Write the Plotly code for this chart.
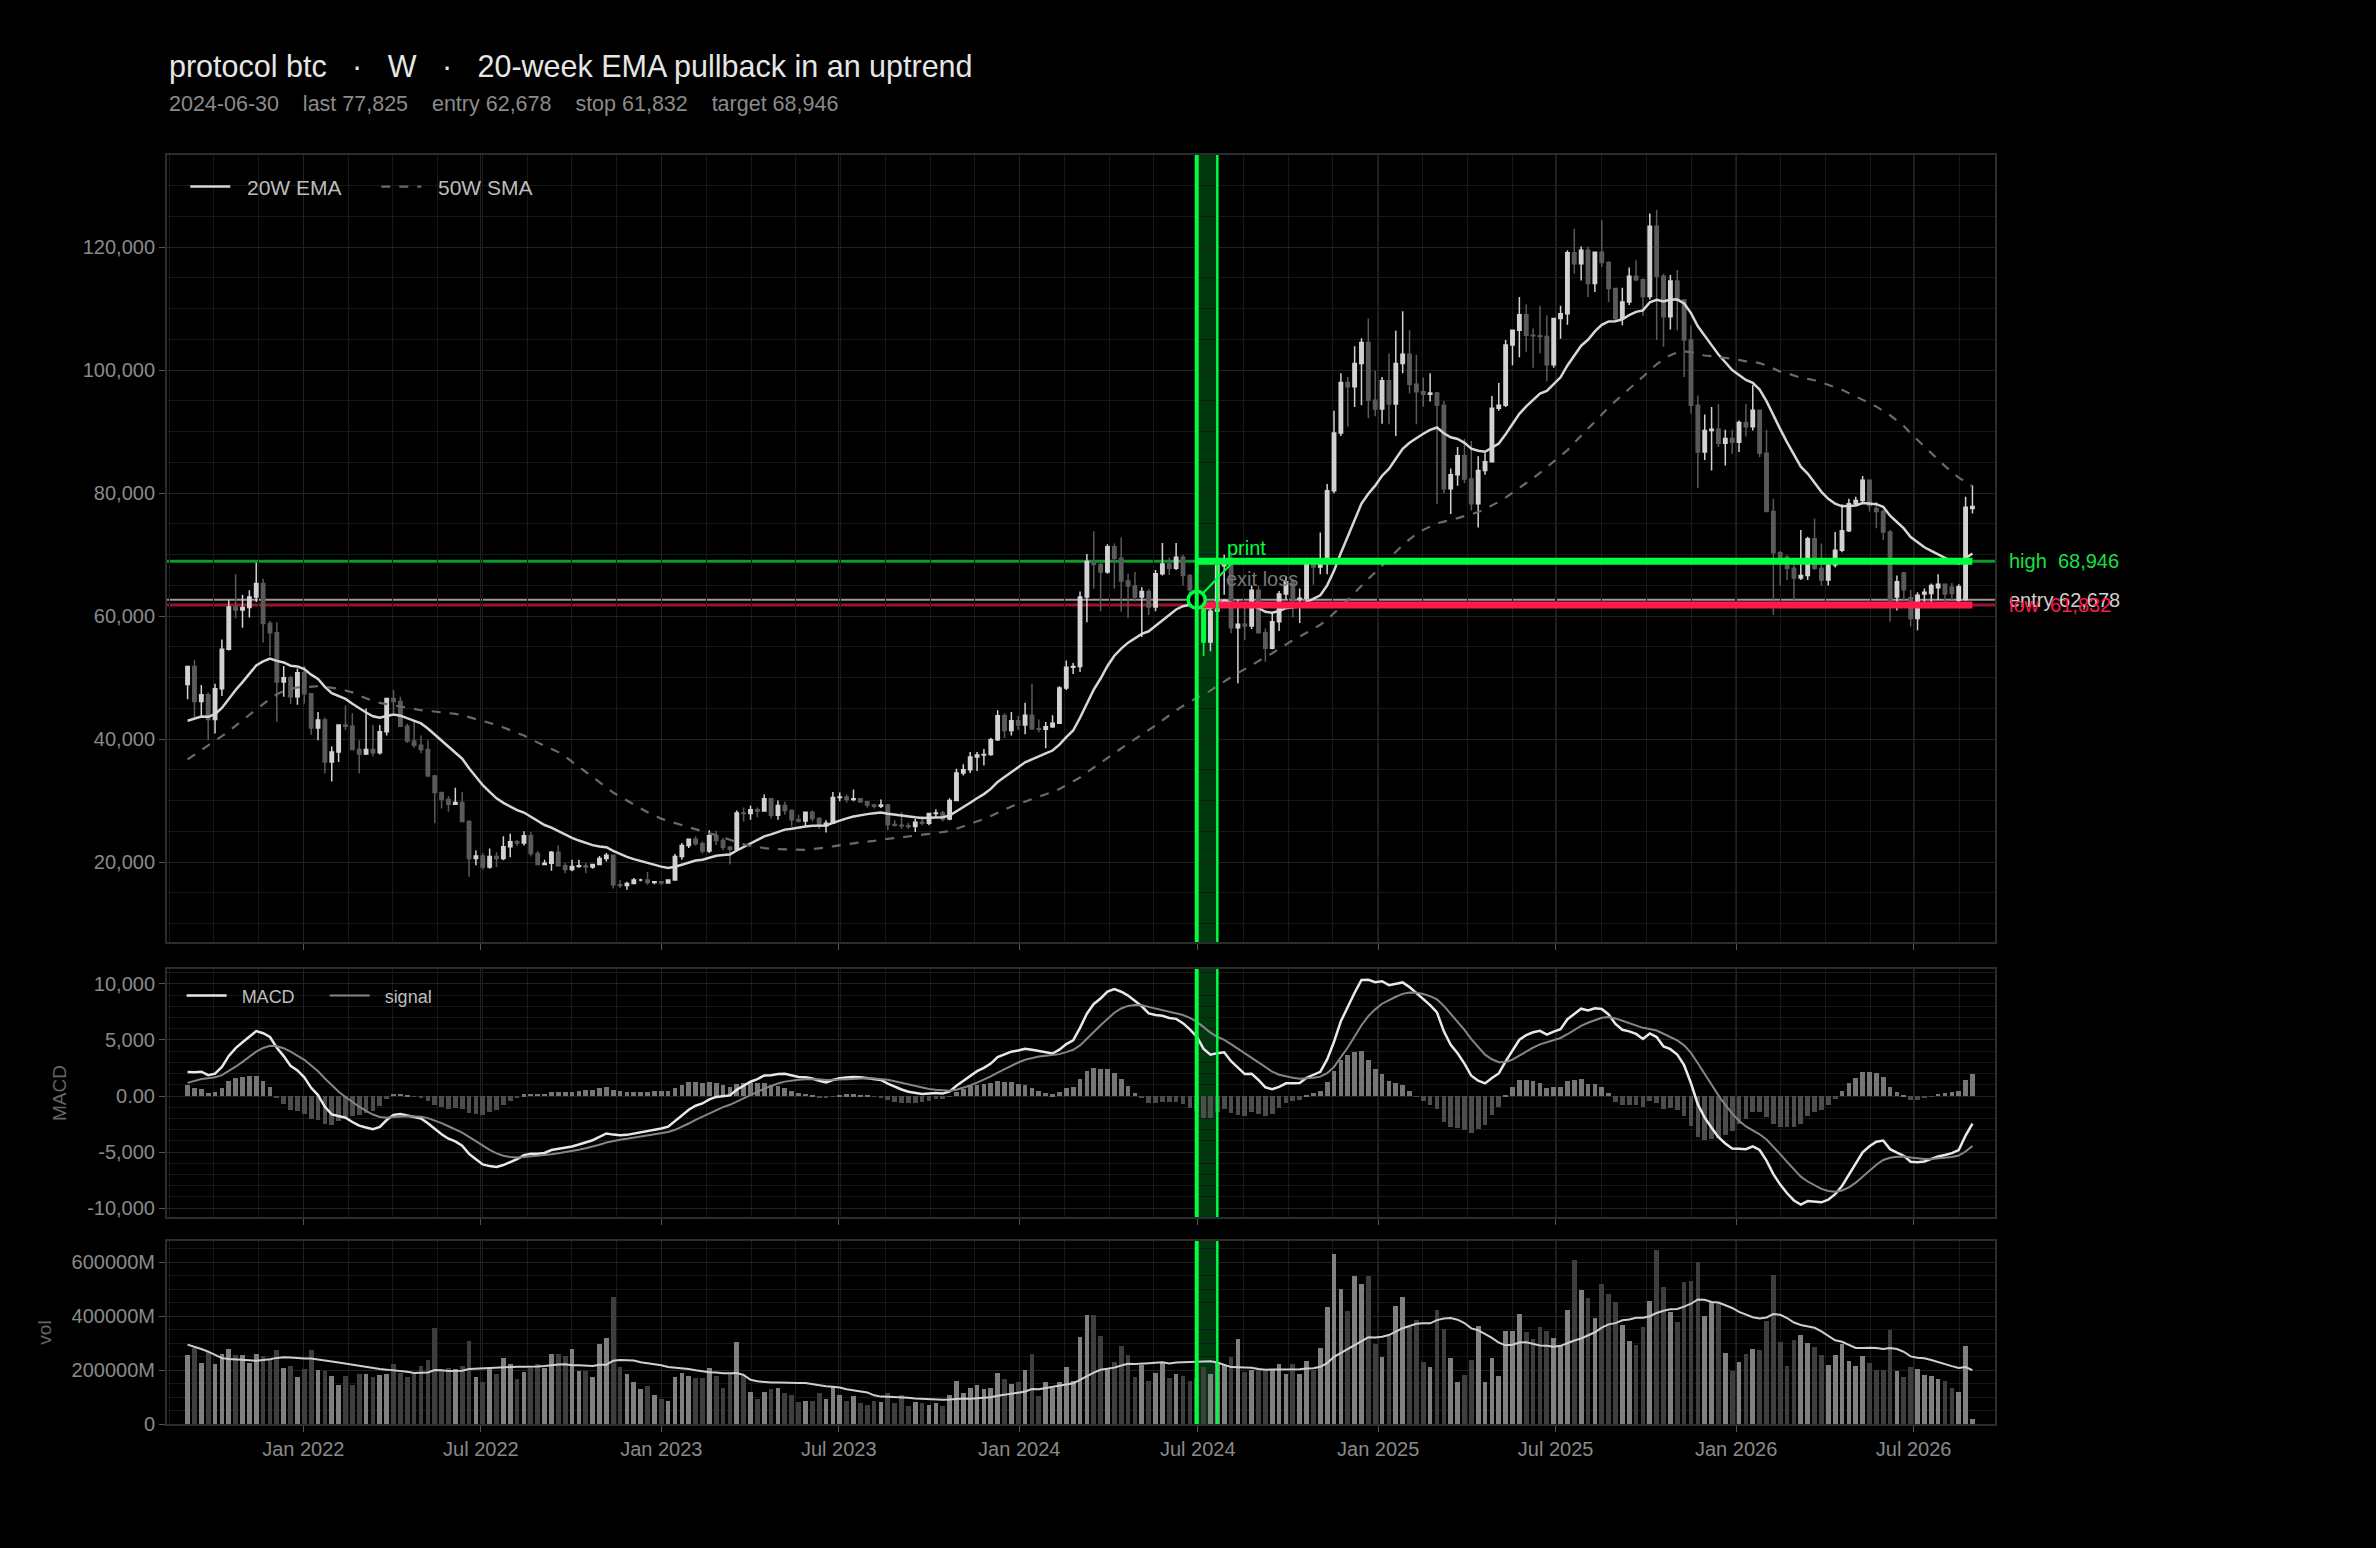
import numpy as np
import pandas as pd
import plotly.graph_objects as go
from plotly.subplots import make_subplots

symbol = "protocol btc"
timeframe = "W"
setup = "20-week EMA pullback in an uptrend"
signal_date = "2024-06-30"
entry_price = 62678
stop_price = 61832
target_price = 68946
hold_weeks = 3

# weekly bars (week ending Sunday, first one 2021-09-05), prices in USD thousands
open_k = [
    48.9, 51.8, 46.1, 47.2, 43.2, 48.2, 54.6, 61.5, 61.0, 61.4,
    63.1, 65.3, 58.8, 57.3, 49.3, 50.0, 46.9, 50.8, 47.4, 41.8,
    43.1, 36.3, 37.9, 42.3, 42.1, 38.3, 37.6, 38.3, 37.8, 41.2,
    46.6, 46.1, 42.1, 39.7, 39.0, 38.3, 34.0, 31.3, 30.2, 29.4,
    29.7, 26.6, 20.6, 21.0, 19.2, 20.9, 20.6, 22.5, 23.3, 23.1,
    24.3, 21.4, 19.6, 19.8, 21.6, 19.4, 18.8, 19.3, 19.4, 19.2,
    19.6, 20.6, 21.1, 16.3, 16.2, 16.5, 17.1, 17.1, 16.7, 16.8,
    16.6, 17.1, 20.9, 22.7, 23.7, 23.0, 21.8, 24.3, 23.5, 22.4,
    22.1, 28.0, 27.9, 28.5, 28.3, 30.3, 27.6, 29.2, 28.4, 26.9,
    26.7, 28.1, 27.1, 25.9, 26.3, 30.5, 30.6, 30.2, 30.3, 29.8,
    29.3, 29.1, 29.3, 26.1, 26.0, 25.9, 25.8, 26.5, 26.3, 27.9,
    28.0, 27.0, 30.0, 34.5, 35.0, 37.1, 37.4, 37.5, 39.9, 43.8,
    41.4, 43.0, 42.3, 43.9, 41.7, 41.6, 42.0, 42.6, 48.3, 51.7,
    51.8, 63.1, 68.9, 68.4, 67.2, 71.3, 69.4, 65.7, 64.9, 63.1,
    64.0, 61.5, 66.9, 68.5, 67.8, 69.6, 66.6, 64.3, 62.7, 55.8,
    60.8, 68.2, 68.3, 58.1, 58.7, 58.4, 64.2, 57.3, 54.8, 59.1,
    63.6, 65.6, 62.8, 62.9, 69.0, 68.0, 68.7, 80.4, 89.8, 98.0,
    97.3, 101.1, 104.5, 95.1, 93.7, 98.3, 94.5, 101.1, 102.6, 97.7,
    96.5, 96.1, 96.3, 94.3, 80.7, 83.0, 86.1, 82.3, 78.3, 83.7,
    85.1, 93.8, 94.3, 104.1, 106.5, 109.0, 105.7, 105.6, 105.5, 100.9,
    108.4, 109.2, 119.1, 117.3, 119.5, 114.1, 119.2, 117.5, 113.3, 108.4,
    111.1, 115.3, 114.7, 112.0, 123.4, 115.3, 108.7, 114.5, 111.4, 104.9,
    94.3, 86.7, 90.2, 90.4, 88.1, 88.9, 88.3, 91.5, 90.8, 93.5,
    86.5, 77.0, 70.3, 69.6, 67.8, 66.2, 66.6, 72.6, 67.8, 65.9,
    68.3, 70.7, 73.9, 78.3, 78.8, 82.1, 77.5, 77.0, 73.7, 63.1,
    67.0, 63.0, 59.6, 63.6, 63.7, 64.6, 65.2, 64.7, 62.6, 62.7, 77.5,
]
high_k = [
    51.9, 52.9, 48.8, 47.6, 49.0, 56.2, 62.6, 66.8, 63.5, 64.2,
    68.7, 66.1, 59.2, 59.0, 51.9, 50.3, 51.5, 51.9, 47.5, 44.4,
    43.5, 38.8, 42.4, 45.5, 44.2, 39.8, 45.0, 42.3, 42.3, 46.6,
    48.0, 46.9, 42.5, 42.8, 40.6, 39.8, 34.2, 31.4, 30.7, 32.1,
    31.4, 26.8, 21.9, 21.5, 22.2, 21.6, 24.2, 24.6, 23.6, 25.0,
    24.9, 21.8, 20.4, 21.8, 22.7, 19.9, 20.4, 20.4, 19.9, 19.7,
    21.0, 21.5, 21.1, 17.1, 16.8, 17.4, 17.3, 18.4, 16.9, 16.8,
    17.2, 21.3, 23.1, 23.8, 24.2, 23.4, 25.2, 25.1, 23.9, 22.6,
    28.4, 28.9, 29.2, 28.9, 31.0, 30.4, 30.0, 29.8, 28.6, 27.7,
    28.2, 28.4, 27.3, 26.8, 31.4, 31.3, 31.0, 31.8, 30.4, 29.9,
    29.5, 30.2, 29.5, 26.8, 28.1, 26.4, 27.0, 27.5, 28.0, 28.6,
    28.3, 30.4, 35.2, 35.9, 37.9, 37.9, 38.4, 40.2, 44.7, 44.2,
    44.4, 43.8, 45.9, 49.0, 43.2, 42.8, 43.9, 48.6, 52.8, 52.4,
    64.0, 70.1, 73.8, 68.7, 71.7, 71.8, 72.8, 66.9, 67.2, 64.7,
    64.4, 67.5, 71.9, 69.5, 71.9, 70.0, 66.8, 64.5, 63.8, 61.3,
    68.4, 70.0, 70.0, 62.7, 61.8, 65.0, 64.9, 58.0, 60.6, 64.1,
    66.5, 66.0, 64.5, 69.5, 69.5, 73.6, 81.5, 93.4, 99.5, 98.9,
    103.9, 105.2, 108.4, 99.9, 98.9, 102.7, 106.4, 109.6, 106.5, 102.5,
    98.8, 99.5, 96.5, 95.0, 84.0, 87.5, 88.8, 88.5, 86.0, 86.5,
    95.8, 97.9, 104.9, 106.6, 111.9, 110.7, 106.8, 110.5, 108.9, 108.5,
    110.5, 119.5, 123.0, 120.1, 120.1, 119.3, 124.4, 117.7, 113.4, 113.4,
    116.7, 117.9, 114.9, 125.5, 126.1, 115.7, 115.5, 116.3, 111.6, 107.3,
    95.9, 92.8, 94.0, 94.5, 90.3, 90.3, 91.8, 94.5, 97.6, 93.6,
    90.3, 79.1, 70.6, 69.9, 68.4, 74.0, 72.9, 75.9, 71.8, 68.6,
    73.7, 78.2, 79.1, 79.4, 82.8, 82.2, 78.6, 77.3, 74.0, 66.6,
    67.2, 64.3, 63.9, 64.5, 65.3, 66.8, 65.3, 65.4, 65.2, 79.4, 81.3,
]
low_k = [
    46.5, 43.4, 43.6, 39.8, 40.9, 47.0, 54.4, 59.6, 58.1, 59.8,
    62.3, 55.7, 53.5, 42.8, 46.9, 45.7, 45.6, 45.8, 40.7, 39.8,
    34.4, 33.1, 36.3, 41.5, 38.2, 34.4, 37.4, 37.2, 37.5, 40.6,
    44.2, 42.0, 39.4, 38.6, 37.7, 33.9, 26.3, 28.7, 28.2, 29.3,
    26.5, 17.6, 19.5, 18.8, 18.9, 19.2, 20.3, 20.8, 22.6, 22.7,
    20.9, 19.5, 19.5, 18.6, 19.3, 18.2, 18.5, 19.1, 18.2, 18.9,
    19.5, 20.1, 15.7, 15.8, 15.5, 16.4, 16.9, 16.3, 16.4, 16.3,
    16.5, 17.0, 20.4, 22.3, 22.7, 21.4, 21.5, 22.8, 21.9, 19.6,
    21.9, 26.6, 26.9, 27.3, 28.2, 27.1, 26.9, 27.7, 25.8, 26.4,
    25.9, 26.6, 25.4, 24.8, 26.2, 29.9, 29.7, 29.9, 29.6, 28.9,
    28.7, 28.8, 25.2, 25.8, 25.4, 25.4, 24.9, 26.0, 26.0, 27.2,
    26.6, 26.8, 29.9, 34.1, 34.5, 34.8, 35.7, 37.3, 39.7, 40.2,
    40.6, 41.5, 40.8, 41.5, 41.1, 38.5, 41.8, 42.5, 48.0, 50.6,
    50.9, 59.0, 64.5, 60.8, 66.9, 64.5, 60.7, 59.7, 62.4, 56.6,
    60.2, 60.8, 66.6, 66.7, 67.5, 65.0, 63.4, 58.4, 53.5, 54.3,
    60.7, 63.5, 57.2, 49.1, 56.1, 57.9, 57.2, 52.6, 54.6, 57.6,
    62.7, 59.8, 58.9, 62.4, 65.1, 66.8, 66.8, 80.0, 89.3, 90.8,
    94.0, 94.3, 92.2, 92.5, 91.3, 91.2, 89.3, 99.5, 96.2, 91.2,
    94.1, 94.9, 78.2, 80.0, 76.6, 81.2, 81.6, 77.2, 74.4, 83.0,
    85.0, 93.4, 94.0, 100.8, 102.1, 103.0, 100.4, 102.7, 98.2, 100.4,
    105.1, 107.4, 115.7, 114.6, 111.9, 112.7, 116.8, 111.1, 108.1, 107.3,
    110.6, 114.5, 108.8, 111.5, 104.9, 103.8, 106.6, 106.5, 98.9, 92.9,
    80.8, 85.4, 83.7, 87.5, 84.5, 86.4, 86.7, 89.2, 90.2, 85.9,
    76.9, 60.2, 65.0, 65.9, 62.6, 65.9, 65.9, 67.5, 65.0, 65.0,
    67.9, 70.4, 73.7, 78.0, 78.3, 77.0, 74.3, 72.4, 59.1, 60.9,
    62.6, 58.3, 57.7, 62.3, 62.3, 62.6, 62.3, 62.6, 62.3, 62.5, 76.7,
]
close_k = [
    51.8, 46.1, 47.2, 43.2, 48.2, 54.6, 61.5, 61.0, 61.4, 63.1,
    65.3, 58.8, 57.3, 49.3, 50.0, 46.9, 50.8, 47.4, 41.8, 43.1,
    36.3, 37.9, 42.3, 42.1, 38.3, 37.6, 38.3, 37.8, 41.2, 46.6,
    46.1, 42.1, 39.7, 39.0, 38.3, 34.0, 31.3, 30.2, 29.4, 29.7,
    26.6, 20.6, 21.0, 19.2, 20.9, 20.6, 22.5, 23.3, 23.1, 24.3,
    21.4, 19.6, 19.8, 21.6, 19.4, 18.8, 19.3, 19.4, 19.2, 19.6,
    20.6, 21.1, 16.3, 16.2, 16.5, 17.1, 17.1, 16.7, 16.8, 16.6,
    17.1, 20.9, 22.7, 23.7, 23.0, 21.8, 24.3, 23.5, 22.4, 22.1,
    28.0, 27.9, 28.5, 28.3, 30.3, 27.6, 29.2, 28.4, 26.9, 26.7,
    28.1, 27.1, 25.9, 26.3, 30.5, 30.6, 30.2, 30.3, 29.8, 29.3,
    29.1, 29.3, 26.1, 26.0, 25.9, 25.8, 26.5, 26.3, 27.9, 28.0,
    27.0, 30.0, 34.5, 35.0, 37.1, 37.4, 37.5, 39.9, 43.8, 41.4,
    43.0, 42.3, 43.9, 41.7, 41.6, 42.0, 42.6, 48.3, 51.7, 51.8,
    63.1, 68.9, 68.4, 67.2, 71.3, 69.4, 65.7, 64.9, 63.1, 64.0,
    61.5, 66.9, 68.5, 67.8, 69.6, 66.6, 64.3, 62.678, 55.8, 60.8,
    68.2, 68.3, 58.1, 58.7, 58.4, 64.2, 57.3, 54.8, 59.1, 63.6,
    65.6, 62.8, 62.9, 69.0, 68.0, 68.7, 80.4, 89.8, 98.0, 97.3,
    101.1, 104.5, 95.1, 93.7, 98.3, 94.5, 101.1, 102.6, 97.7, 96.5,
    96.1, 96.3, 94.3, 80.7, 83.0, 86.1, 82.3, 78.3, 83.7, 85.1,
    93.8, 94.3, 104.1, 106.5, 109.0, 105.7, 105.6, 105.5, 100.9, 108.4,
    109.2, 119.1, 117.3, 119.5, 114.1, 119.2, 117.5, 113.3, 108.4, 111.1,
    115.3, 114.7, 112.0, 123.4, 115.3, 108.7, 114.5, 111.4, 104.9, 94.3,
    86.7, 90.2, 90.4, 88.1, 88.9, 88.3, 91.5, 90.8, 93.5, 86.5,
    77.0, 70.3, 69.6, 67.8, 66.2, 66.6, 72.6, 67.8, 65.9, 68.3,
    70.7, 73.9, 78.3, 78.8, 82.1, 78.0, 77.0, 73.7, 62.5, 65.6,
    64.3, 59.6, 63.4, 63.9, 65.0, 65.2, 63.6, 63.7, 64.8, 77.7, 77.825,
]
# weekly volume, USD billions
volume_bn = [
    255, 280, 225, 265, 221, 258, 277, 255, 255, 225,
    258, 251, 236, 273, 206, 214, 174, 202, 273, 199,
    195, 176, 143, 176, 143, 186, 184, 174, 180, 186,
    221, 189, 174, 189, 214, 236, 354, 196, 209, 205,
    214, 307, 174, 154, 205, 184, 245, 221, 165, 191,
    209, 221, 206, 258, 258, 251, 277, 195, 195, 174,
    298, 317, 471, 210, 184, 154, 128, 140, 106, 94,
    87, 173, 188, 176, 169, 169, 206, 176, 135, 184,
    303, 176, 120, 94, 120, 128, 135, 113, 106, 83,
    87, 87, 113, 91, 137, 106, 87, 102, 79, 72,
    87, 83, 113, 79, 108, 68, 83, 79, 72, 79,
    68, 109, 161, 113, 132, 143, 128, 132, 188, 165,
    150, 154, 199, 258, 102, 154, 132, 154, 210, 161,
    322, 404, 404, 325, 206, 229, 288, 255, 173, 217,
    158, 188, 229, 169, 184, 176, 161, 170, 210, 184,
    229, 217, 247, 314, 191, 199, 199, 199, 199, 221,
    184, 221, 184, 232, 199, 281, 433, 631, 500, 419,
    549, 519, 549, 296, 247, 327, 437, 471, 358, 387,
    229, 210, 422, 351, 243, 154, 180, 236, 363, 154,
    243, 176, 345, 345, 407, 340, 314, 358, 345, 318,
    288, 422, 609, 497, 467, 392, 519, 482, 452, 366,
    307, 292, 359, 456, 646, 508, 415, 378, 527, 530,
    601, 400, 452, 452, 262, 195, 229, 258, 277, 273,
    381, 553, 303, 214, 311, 329, 299, 284, 255, 217,
    255, 296, 232, 214, 251, 225, 199, 199, 348, 195,
    173, 210, 202, 180, 176, 165, 161, 135, 120, 288, 19,
]

# the window starts without history: the early part of the slow averages as drawn
sma50_head_k = [
    36.7, 37.4, 38.2, 39.0, 39.7, 40.5, 41.3, 42.2, 43.0, 43.9,
    44.8, 45.7, 46.5, 47.3, 47.8, 48.2, 48.4, 48.5, 48.5, 48.6,
    48.5, 48.4, 48.2, 47.9, 47.6, 47.1, 46.6, 46.2, 45.9, 45.7,
    45.5, 45.2, 45.0, 44.8, 44.7, 44.6, 44.5, 44.4, 44.2, 44.1,
    43.9, 43.6, 43.3, 43.0, 42.7, 42.3, 41.9, 41.5, 41.1,
]
vol_ma_head_bn = [294, 287, 278, 268, 256, 244, 241, 240, 239, 236,
                  234, 236, 240, 245, 247, 246, 244, 243, 243]
ema20_first = 43000
ema12_first, ema26_first = 44400, 42250
signal_first = 1170

price_range = [7000, 135000]
macd_range = [-10800, 11340]
vol_range = [0, 678000]

GREEN = "#00ff41"
RED = "#ff1a4b"
UP = "#d2d2d2"
DOWN = "#5a5a5a"
FONT = "Liberation Sans, Arial, sans-serif"

weeks = pd.date_range("2021-09-05", periods=len(close_k), freq="W-SUN")
o = np.array(open_k) * 1000
h = np.array(high_k) * 1000
l = np.array(low_k) * 1000
c = np.array(close_k) * 1000
vol = np.array(volume_bn) * 1000  # in millions


def ema(x, span, first):
    a = 2 / (span + 1)
    out = np.empty(len(x))
    out[0] = first
    for k in range(1, len(x)):
        out[k] = out[k - 1] + a * (x[k] - out[k - 1])
    return out


ema20 = ema(c, 20, ema20_first)
sma50 = pd.Series(c).rolling(50).mean().to_numpy()
sma50[:49] = np.array(sma50_head_k) * 1000
macd = ema(c, 12, ema12_first) - ema(c, 26, ema26_first)
signal = ema(macd, 9, signal_first)
hist = macd - signal
vol_ma = pd.Series(vol).rolling(20).mean().to_numpy()
vol_ma[:19] = np.array(vol_ma_head_bn) * 1000

sig_i = int(np.where(weeks == pd.Timestamp(signal_date))[0][0])
exit_i = sig_i + hold_weeks
up = c >= o

fig = make_subplots(rows=3, cols=1, shared_xaxes=True)
nb = "\u00a0"

fig.add_trace(go.Candlestick(
    x=weeks, open=o, high=h, low=l, close=c, whiskerwidth=0,
    increasing=dict(line=dict(color=UP, width=1.5), fillcolor=UP),
    decreasing=dict(line=dict(color=DOWN, width=1.5), fillcolor=DOWN),
    showlegend=False, name="btc"), row=1, col=1)
fig.add_trace(go.Scatter(x=weeks, y=ema20, mode="lines", name=nb * 2 + "20W EMA",
                         line=dict(color="#d6d6d6", width=2.5)), row=1, col=1)
fig.add_trace(go.Scatter(x=weeks, y=sma50, mode="lines", name=nb * 2 + "50W SMA",
                         line=dict(color="#6a6a6a", width=2.2, dash="dash")), row=1, col=1)
for lvl, col in [(target_price, GREEN), (stop_price, RED)]:
    fig.add_trace(go.Scatter(x=[weeks[sig_i], weeks[-1]], y=[lvl, lvl], mode="lines",
                             line=dict(color=col, width=7), showlegend=False), row=1, col=1)
j = sig_i + 1
fig.add_trace(go.Candlestick(
    x=[weeks[j]], open=[o[j]], high=[h[j]], low=[l[j]], close=[c[j]], whiskerwidth=0,
    increasing=dict(line=dict(color=GREEN, width=1.5), fillcolor=GREEN),
    decreasing=dict(line=dict(color=GREEN, width=1.5), fillcolor=GREEN),
    showlegend=False), row=1, col=1)
fig.add_trace(go.Scatter(x=[weeks[sig_i]], y=[entry_price], mode="markers", showlegend=False,
                         marker=dict(size=17, color="#000000", line=dict(color=GREEN, width=3.5))),
              row=1, col=1)

bar_w = 4.8 * 86400000
fig.add_trace(go.Bar(x=weeks, y=hist, width=bar_w, showlegend=False,
                     marker=dict(color=np.where(hist >= 0, "#767676", "#4c4c4c"), line_width=0)),
              row=2, col=1)
fig.add_trace(go.Scatter(x=weeks, y=macd, mode="lines", name=nb * 2 + "MACD", legend="legend2",
                         line=dict(color="#e8e8e8", width=2.5)), row=2, col=1)
fig.add_trace(go.Scatter(x=weeks, y=signal, mode="lines", name=nb * 2 + "signal", legend="legend2",
                         line=dict(color="#858585", width=2)), row=2, col=1)

fig.add_trace(go.Bar(x=weeks, y=vol, width=bar_w, showlegend=False,
                     marker=dict(color=np.where(up, "#808080", "#3e3e3e"), line_width=0)),
              row=3, col=1)
fig.add_trace(go.Scatter(x=weeks, y=vol_ma, mode="lines", showlegend=False,
                         line=dict(color="#cfcfcf", width=2)), row=3, col=1)

# signal / exit band in every panel
for xr, yr, rng in [("x", "y", price_range), ("x2", "y2", macd_range), ("x3", "y3", vol_range)]:
    fig.add_shape(type="rect", xref=xr, yref=yr, x0=weeks[sig_i], x1=weeks[exit_i],
                  y0=rng[0], y1=rng[1], fillcolor="rgba(0,255,65,0.22)", line_width=0,
                  layer="below")
    fig.add_shape(type="line", xref=xr, yref=yr + " domain", x0=weeks[sig_i], x1=weeks[sig_i],
                  y0=0, y1=1, line=dict(color=GREEN, width=4))
    fig.add_shape(type="line", xref=xr, yref=yr + " domain", x0=weeks[exit_i], x1=weeks[exit_i],
                  y0=0, y1=1, line=dict(color=GREEN, width=2.5))

for lvl, col, w in [(target_price, "#0c9a2a", 3), (entry_price, "#9a9a9a", 2), (stop_price, "#9a1430", 3)]:
    fig.add_shape(type="line", xref="x domain", yref="y", x0=0, x1=1, y0=lvl, y1=lvl,
                  line=dict(color=col, width=w), layer="below")

sep = nb * 3 + "·" + nb * 3
gap = nb * 4
ann = [
    dict(xref="paper", yref="paper", x=0, y=1.070, xanchor="left", yanchor="middle", showarrow=False,
         text=f"{symbol}{sep}{timeframe}{sep}{setup}", font=dict(size=30.5, color="#e6e6e6")),
    dict(xref="paper", yref="paper", x=0, y=1.040, xanchor="left", yanchor="middle", showarrow=False,
         text=gap.join([signal_date, f"last {c[-1]:,.0f}", f"entry {entry_price:,}",
                        f"stop {stop_price:,}", f"target {target_price:,}"]),
         font=dict(size=21.5, color="#8a8a8a")),
    dict(xref="paper", yref="y", x=1, xshift=12, y=target_price, xanchor="left", showarrow=False,
         text=f"high{nb}{nb}{target_price:,}", font=dict(size=20, color="#18e043")),
    dict(xref="paper", yref="y", x=1, xshift=12, y=entry_price, xanchor="left", showarrow=False,
         text=f"entry {entry_price:,}", font=dict(size=20, color="#d0d0d0")),
    dict(xref="paper", yref="y", x=1, xshift=12, y=stop_price, xanchor="left", showarrow=False,
         text=f"low{nb}{nb}{stop_price:,}", font=dict(size=20, color=RED)),
    dict(xref="x", yref="y", x=weeks[sig_i], y=entry_price, ax=50, ay=-52, text="print",
         showarrow=True, arrowhead=0, arrowwidth=2, arrowcolor=GREEN, standoff=9,
         font=dict(size=20, color=GREEN)),
    dict(xref="x", yref="y", x=weeks[exit_i + 1], y=66000, xanchor="left", showarrow=False,
         text="exit loss", font=dict(size=20, color="#777777")),
]

axis_common = dict(showline=True, mirror=True, linecolor="#2c2c2c", linewidth=2,
                   gridcolor="#222222", gridwidth=1, zeroline=False,
                   ticks="outside", ticklen=6, tickcolor="#555555",
                   tickfont=dict(size=20, color="#8a8a8a"))

fig.update_xaxes(**axis_common, range=["2021-08-15", "2026-09-22"], dtick="M6", tick0="2022-01-01",
                 tickformat="%b %Y", rangeslider_visible=False,
                 minor=dict(showgrid=True, gridcolor="#181818", dtick=45.65 * 86400000,
                            tick0="2022-01-01"))
fig.update_yaxes(**axis_common)

fig.update_layout(
    width=2376, height=1548, autosize=False,
    paper_bgcolor="#000000", plot_bgcolor="rgba(0,0,0,0)",
    font=dict(family=FONT, color="#bdbdbd"),
    margin=dict(l=167, r=381, t=155, b=124),
    hovermode=False, bargap=0, annotations=ann,
    legend=dict(x=0.010, y=0.991, xanchor="left", yanchor="top", orientation="h",
                itemwidth=40, entrywidth=136, bgcolor="rgba(0,0,0,0)",
                font=dict(size=21, color="#bdbdbd")),
    legend2=dict(x=0.008, y=0.352, xanchor="left", yanchor="top", orientation="h",
                 itemwidth=40, entrywidth=88, bgcolor="rgba(0,0,0,0)",
                 font=dict(size=18, color="#bdbdbd")),
    yaxis=dict(domain=[0.3798, 1], range=price_range, dtick=20000, tick0=0, tickformat=",",
               minor=dict(showgrid=True, gridcolor="#181818", dtick=5000)),
    yaxis2=dict(domain=[0.1631, 0.3586], range=macd_range,
                tickvals=[-10000, -5000, 0, 5000, 10000],
                ticktext=["-10,000", "-5,000", "0.00", "5,000", "10,000"],
                minor=dict(showgrid=True, gridcolor="#181818", dtick=1000),
                title=dict(text="MACD", font=dict(size=19, color="#666666"))),
    yaxis3=dict(domain=[0, 0.1442], range=vol_range,
                tickvals=[0, 200000, 400000, 600000],
                ticktext=["0", "200000M", "400000M", "600000M"],
                minor=dict(showgrid=True, gridcolor="#181818", dtick=50000),
                title=dict(text="vol", font=dict(size=19, color="#666666"))),
)

fig.write_html("out.html", config={"displayModeBar": False},
               post_script="document.body.style.margin='0';"
                           "document.body.style.background='#000';")
